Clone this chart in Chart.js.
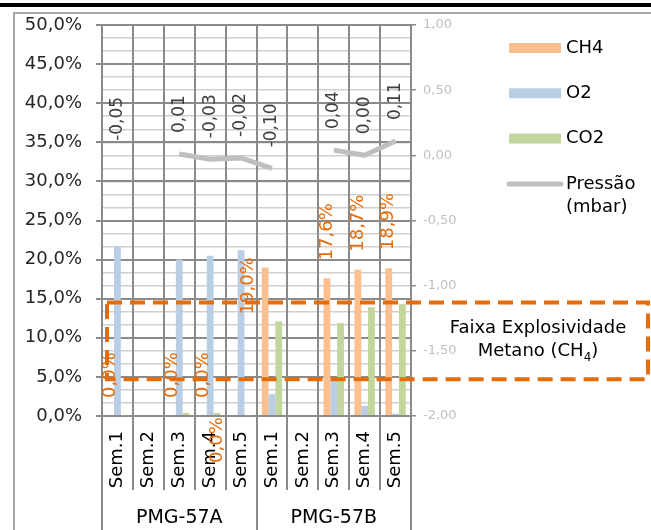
<!DOCTYPE html>
<html>
<head>
<meta charset="utf-8">
<script src="https://cdn.jsdelivr.net/npm/chart.js@4.4.0/dist/chart.umd.min.js"></script>
<style>
  html, body { margin: 0; padding: 0; background: #fff; }
  canvas { display: block; }
</style>
</head>
<body>
<canvas id="chart" width="651" height="530"></canvas>
<script>
// data
var weeks = ['Sem.1', 'Sem.2', 'Sem.3', 'Sem.4', 'Sem.5', 'Sem.1', 'Sem.2', 'Sem.3', 'Sem.4', 'Sem.5'];
var wells = ['PMG-57A', 'PMG-57B'];
var seriesNames = ['CH4', 'O2', 'CO2', 'Pressão (mbar)'];

var ch4 = [0, null, 0, 0, 0, 19.0, null, 17.6, 18.7, 18.9];
var o2 = [21.7, null, 20.0, 20.5, 21.2, 2.8, null, 4.6, 1.3, 0.3];
var co2 = [0.1, null, 0.4, 0.4, 0.1, 12.1, null, 11.9, 13.9, 14.3];
var pressure = [-0.05, null, 0.01, -0.03, -0.02, -0.10, null, 0.04, 0.00, 0.11];

var pctTicks = [0, 5, 10, 15, 20, 25, 30, 35, 40, 45, 50];
var pressureTicks = [-2.0, -1.5, -1.0, -0.5, 0.0, 0.5, 1.0];
var explosiveRange = [4.7, 14.5];

var DARK = '#8a8a8a';
var LIGHT = '#cfcfcf';
var ORANGE = '#e46c0a';
var FONT = "'DejaVu Sans', sans-serif";

Chart.defaults.font.family = FONT;
Chart.defaults.color = '#000';

function comma(v, d) { return v.toFixed(d).replace('.', ','); }
function isMajorP(v) { return Math.abs(v * 2 - Math.round(v * 2)) < 1e-6; }

var decoPlugin = {
  id: 'deco',
  beforeDraw: function(chart) {
    var c = chart.ctx;
    c.save();
    c.fillStyle = '#fff';
    c.fillRect(0, 0, chart.width, chart.height);
    c.fillStyle = '#000';
    c.fillRect(0, 3, chart.width, 4);
    c.strokeStyle = '#a6a6a6';
    c.lineWidth = 2;
    c.beginPath();
    c.moveTo(chart.width, 13);
    c.lineTo(14, 13);
    c.lineTo(14, chart.height);
    c.stroke();
    c.restore();
  },
  afterDraw: function(chart) {
    var c = chart.ctx;
    var xs = chart.scales.x, ys = chart.scales.y;
    var area = chart.chartArea;
    c.save();

    // category separators under the axis, longer ones between wells
    c.strokeStyle = DARK;
    c.lineWidth = 2;
    for (var i = 0; i <= weeks.length; i++) {
      var gx = Math.round(xs.getPixelForValue(i - 0.5));
      c.beginPath();
      c.moveTo(gx, xs.top);
      c.lineTo(gx, i % 5 === 0 ? chart.height : xs.top + 74);
      c.stroke();
    }

    // well names
    c.fillStyle = '#000';
    c.font = '19px ' + FONT;
    c.textAlign = 'center';
    c.textBaseline = 'middle';
    wells.forEach(function(w, g) {
      var a = xs.getPixelForValue(g * 5 - 0.5), b = xs.getPixelForValue(g * 5 + 4.5);
      c.fillText(w, (a + b) / 2, xs.top + 102);
    });

    // explosive range box
    var top = ys.getPixelForValue(explosiveRange[1]);
    var bot = ys.getPixelForValue(explosiveRange[0]);
    c.strokeStyle = ORANGE;
    c.lineWidth = 4;
    c.setLineDash([15, 8]);
    c.strokeRect(area.left + 5, top, chart.width - 3 - area.left - 5, bot - top);
    c.setLineDash([]);

    var tx = area.right + 127;
    c.fillStyle = '#000';
    c.font = '18px ' + FONT;
    c.textAlign = 'center';
    c.fillText('Faixa Explosividade', tx, top + 26);
    var main = 'Metano (CH', sub = '4', end = ')';
    var w1 = c.measureText(main).width, w3 = c.measureText(end).width;
    c.font = '12px ' + FONT;
    var w2 = c.measureText(sub).width;
    var sx = tx - (w1 + w2 + w3) / 2, sy = top + 49;
    c.textAlign = 'left';
    c.font = '18px ' + FONT;
    c.fillText(main, sx, sy);
    c.font = '12px ' + FONT;
    c.fillText(sub, sx + w1, sy + 6);
    c.font = '18px ' + FONT;
    c.fillText(end, sx + w1 + w2, sy);

    // CH4 value labels (two of them sit displaced, as in the original)
    var shift = { 4: [-17, 65], 5: [-17, 65] };
    var m0 = chart.getDatasetMeta(0);
    c.fillStyle = ORANGE;
    c.font = '18px ' + FONT;
    c.textAlign = 'left';
    c.textBaseline = 'middle';
    ch4.forEach(function(v, i) {
      if (v === null) return;
      var el = m0.data[i];
      var d = shift[i] || [0, 0];
      c.save();
      c.translate(el.x + d[0], el.y - 18 + d[1]);
      c.rotate(-Math.PI / 2);
      c.fillText(comma(v, 1) + '%', 0, 0);
      c.restore();
    });

    // pressure value labels
    var m3 = chart.getDatasetMeta(3);
    c.fillStyle = '#404040';
    c.font = '17px ' + FONT;
    pressure.forEach(function(v, i) {
      if (v === null) return;
      var el = m3.data[i];
      c.save();
      c.translate(el.x, el.y - 21);
      c.rotate(-Math.PI / 2);
      c.fillText(comma(v, 2), 0, 0);
      c.restore();
    });

    // legend
    var lx = area.right + 98;
    c.font = '18px ' + FONT;
    c.textBaseline = 'middle';
    chart.data.datasets.forEach(function(ds, i) {
      var ly = 48 + i * 45.3;
      if (ds.type === 'line') {
        c.strokeStyle = ds.borderColor;
        c.lineWidth = 5;
        c.lineCap = 'round';
        c.beginPath();
        c.moveTo(lx, ly);
        c.lineTo(lx + 52, ly);
        c.stroke();
      } else {
        c.fillStyle = ds.backgroundColor;
        c.fillRect(lx, ly - 5, 52, 10);
      }
      c.fillStyle = '#000';
      var parts = c.measureText(ds.label).width > 80 ? ds.label.split(' ') : [ds.label];
      parts.forEach(function(p, k) { c.fillText(p, lx + 57, ly + k * 23); });
    });

    c.restore();
  }
};

new Chart(document.getElementById('chart'), {
  type: 'bar',
  data: {
    labels: weeks,
    datasets: [
      { label: seriesNames[0], data: ch4, backgroundColor: '#fac090', yAxisID: 'y' },
      { label: seriesNames[1], data: o2, backgroundColor: '#b9cde5', yAxisID: 'y' },
      { label: seriesNames[2], data: co2, backgroundColor: '#c3d69b', yAxisID: 'y' },
      {
        type: 'line', label: seriesNames[3], data: pressure, yAxisID: 'y1',
        borderColor: '#bfbfbf', borderWidth: 5, pointRadius: 0, spanGaps: false,
        borderCapStyle: 'butt', borderJoinStyle: 'round', tension: 0
      }
    ]
  },
  options: {
    responsive: false,
    animation: false,
    devicePixelRatio: 1,
    datasets: { bar: { categoryPercentage: 0.66, barPercentage: 1, borderWidth: 0 } },
    layout: { padding: { top: 25, left: 0, right: 0, bottom: 0 } },
    plugins: { legend: { display: false }, tooltip: { enabled: false } },
    scales: {
      x: {
        type: 'category',
        offset: true,
        grid: { offset: true, color: DARK, lineWidth: 2, drawTicks: false, z: -1 },
        border: { color: DARK, width: 2 },
        ticks: { autoSkip: false, minRotation: 90, maxRotation: 90, padding: 15, color: '#000', font: { size: 18 } },
        afterFit: function(s) { s.height = 114; }
      },
      y: {
        position: 'left',
        min: 0, max: 50,
        afterBuildTicks: function(s) { s.ticks = pctTicks.map(function(v) { return { value: v }; }); },
        grid: { color: DARK, lineWidth: 2, tickLength: 6, tickColor: DARK, z: -1 },
        border: { color: DARK, width: 2 },
        ticks: {
          padding: 14, color: '#262626', font: { size: 18 },
          callback: function(v) { return comma(v, 1) + '%'; }
        },
        afterFit: function(s) { s.width = 102; }
      },
      y1: {
        position: 'right',
        min: -2, max: 1,
        afterBuildTicks: function(s) {
          var t = [];
          for (var k = 0; k < pressureTicks.length - 1; k++) {
            for (var j = 0; j < 5; j++) t.push({ value: Math.round((pressureTicks[k] + j * 0.1) * 10) / 10 });
          }
          t.push({ value: pressureTicks[pressureTicks.length - 1] });
          s.ticks = t;
        },
        grid: {
          color: LIGHT, lineWidth: 1.5, tickLength: 5, z: -2,
          tickColor: function(ctx) { return ctx.tick && isMajorP(ctx.tick.value) ? DARK : 'rgba(0,0,0,0)'; }
        },
        border: { color: DARK, width: 2 },
        ticks: {
          padding: 7, color: '#bfbfbf', font: { size: 13 }, autoSkip: false,
          callback: function(v) { return isMajorP(v) ? comma(v, 2) : ''; }
        },
        afterFit: function(s) { s.width = 240; }
      }
    }
  },
  plugins: [decoPlugin]
});
</script>
</body>
</html>
